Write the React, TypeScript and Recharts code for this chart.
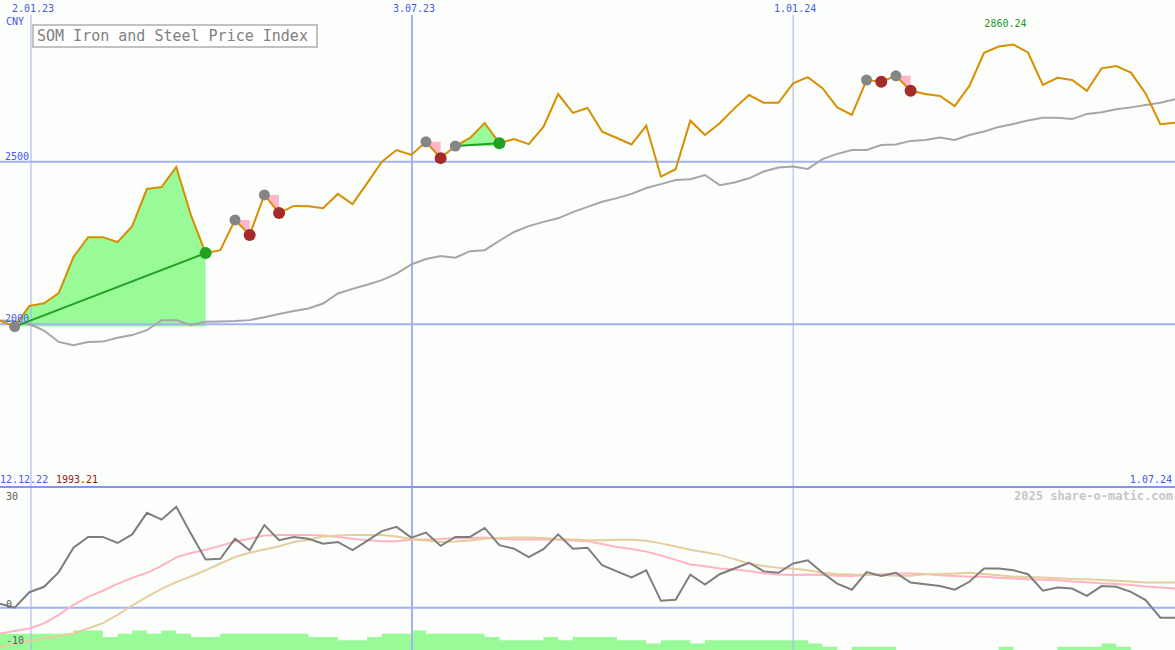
import React from "react";
import { ComposedChart, Line, Area, XAxis, YAxis, ReferenceLine, ReferenceDot } from "recharts";

const MONO = '"DejaVu Sans Mono", "Liberation Mono", monospace';
const BLUE_TEXT = "#4658ee";
const GRID = "#a3b0f2";

// weekly closes, 12.12.22 .. 1.07.24
const startLabel = "12.12.22";
const endLabel = "1.07.24";
const dateTicks = [2.11, 28.05, 54];
const dateLabels = ["2.01.23", "3.07.23", "1.01.24"];
const priceTicks = [2000, 2500];
const oscTicks = [30, 0, -10];

const price = [
  2011, 1993.21, 2057, 2065, 2096, 2207, 2268, 2268, 2253, 2302,
  2416, 2422, 2484, 2336, 2219, 2228, 2321, 2275, 2398, 2342,
  2364, 2363, 2357, 2401, 2370, 2434, 2500, 2536, 2521, 2561,
  2511, 2548, 2573, 2619, 2557, 2570, 2554, 2607, 2708, 2650,
  2665, 2592, 2573, 2553, 2611, 2454, 2477, 2626, 2582, 2618,
  2664, 2705, 2681, 2681, 2741, 2760, 2726, 2667, 2644, 2751,
  2746, 2764, 2718, 2708, 2702, 2671, 2733, 2835, 2854, 2860.24,
  2835, 2736, 2758, 2751, 2718, 2787, 2794, 2774, 2710, 2615, 2620,
];

const avg = [
  2012, 2010, 2001, 1981, 1946, 1936, 1946, 1947, 1959, 1967,
  1982, 2013, 2013, 1998, 2008, 2009, 2010, 2013, 2022, 2032,
  2041, 2049, 2064, 2095, 2109, 2122, 2136, 2156, 2184, 2201,
  2210, 2205, 2225, 2228, 2257, 2284, 2302, 2315, 2326, 2345,
  2361, 2377, 2388, 2401, 2419, 2431, 2444, 2446, 2459, 2428,
  2436, 2449, 2470, 2482, 2485, 2478, 2508, 2524, 2536, 2536,
  2551, 2553, 2564, 2567, 2574, 2567, 2582, 2593, 2607, 2616,
  2627, 2635, 2635, 2631, 2647, 2652, 2661, 2667, 2674, 2681, 2692,
];

const momentum = [
  1.1, 0, 4.3, 5.8, 9.9, 16.7, 19.7, 19.7, 18.0, 20.4,
  26.4, 24.5, 28.1, 20.6, 13.4, 13.6, 19.2, 16.0, 23.0, 18.8,
  19.7, 19.2, 17.8, 18.3, 16.0, 18.6, 21.3, 22.5, 19.5, 20.9,
  17.2, 19.7, 19.7, 22.2, 17.4, 16.4, 14.1, 16.3, 20.4, 16.4,
  16.7, 11.8, 10.1, 8.4, 10.4, 1.9, 2.2, 9.2, 6.4, 9.3,
  10.9, 12.5, 10.1, 9.7, 12.3, 13.2, 9.7, 6.7, 5.0, 9.9,
  8.8, 9.7, 7.0, 6.5, 6.0, 5.0, 7.2, 10.9, 10.9, 10.4,
  9.3, 4.7, 5.6, 5.3, 3.3, 6.0, 5.8, 4.4, 2.1, -2.8, -2.8,
];

const signal = [
  -7.2, -6.5, -5.8, -4.4, -2.0, 0.8, 3.0, 4.7, 6.6, 8.3,
  9.7, 11.6, 14.0, 15.2, 16.1, 17.2, 18.4, 19.2, 20.1, 20.2,
  20.2, 20.2, 20.1, 19.7, 19.2, 18.8, 18.5, 18.5, 18.9, 19.0,
  19.1, 19.3, 19.4, 19.5, 19.2, 19.0, 19.0, 19.0, 18.9, 18.7,
  18.5, 17.7, 16.9, 16.3, 15.6, 14.5, 13.3, 12.0, 11.5, 10.9,
  10.6, 10.2, 9.6, 9.2, 9.1, 9.2, 9.1, 8.9, 8.8, 9.1,
  9.3, 9.5, 9.5, 9.4, 9.0, 8.8, 8.6, 8.6, 8.3, 8.1,
  7.9, 7.8, 7.6, 7.3, 7.1, 6.8, 6.6, 6.3, 5.9, 5.6, 5.3,
];

const slow = [
  -10.8, -10.0, -9.3, -8.6, -7.9, -7.2, -5.8, -4.3, -2.0, 0.6,
  3.0, 5.2, 7.1, 8.7, 10.4, 12.3, 14.1, 15.3, 16.2, 17.1,
  18.3, 18.9, 19.8, 20.1, 20.2, 20.2, 20.2, 19.8, 19.1, 18.7,
  18.3, 18.4, 18.7, 19.2, 19.4, 19.5, 19.5, 19.4, 19.1, 19.0,
  18.8, 18.8, 18.9, 18.9, 18.6, 17.9, 17.0, 16.1, 15.4, 14.7,
  13.5, 12.3, 11.6, 11.1, 10.8, 10.4, 9.7, 9.4, 9.2, 9.1,
  9.1, 8.9, 8.9, 9.3, 9.4, 9.5, 9.7, 9.4, 9.0, 8.6,
  8.5, 8.4, 8.2, 8.0, 7.9, 7.7, 7.5, 7.3, 7.0, 7.0, 7.0,
];

const volume = [
  5, 5, 5, 5, 5, 6, 6, 4, 5, 6,
  5, 6, 5, 4, 4, 5, 5, 5, 5, 5,
  5, 4, 4, 3, 3, 4, 5, 5, 6, 5,
  5, 5, 5, 4, 3, 3, 3, 4, 3, 4,
  4, 4, 3, 3, 2, 3, 3, 2, 3, 3,
  3, 3, 3, 3, 3, 2, 1, 0, 1, 1,
  1, 0, 0, 0, 0, 0, 0, 0, 1, 0,
  0, 0, 1, 1, 1, 2, 1, 0, 0, 0, 0,
];

// signals: entry index -> exit index
const trades = [
  { from: 1, to: 14 },
  { from: 16, to: 17 },
  { from: 18, to: 19 },
  { from: 29, to: 30 },
  { from: 31, to: 34 },
  { from: 59, to: 60 },
  { from: 61, to: 62 },
];

const lastIndex = price.length - 1;
const isWin = (t: { from: number; to: number }) => price[t.to] > price[t.from];
const maxVal = Math.max(...price);
const maxIdx = price.indexOf(maxVal);
const minVal = Math.min(...price);

const topData = price.map((p, i) => {
  const row: Record<string, any> = { i, price: p, avg: avg[i] };
  trades.forEach((t, k) => {
    row[`band${k}`] = i >= t.from && i <= t.to ? [price[t.from], p] : null;
    row[`path${k}`] = i === t.from || i === t.to ? p : null;
  });
  row.entryDot = trades.some((t) => t.from === i) ? p : null;
  row.winDot = trades.some((t) => t.to === i && isWin(t)) ? p : null;
  row.lossDot = trades.some((t) => t.to === i && !isWin(t)) ? p : null;
  return row;
});

const bottomData = price.map((_, i) => ({
  i,
  momentum: momentum[i],
  signal: signal[i],
  slow: slow[i],
  vol: volume[i],
}));

const DateTick = (props: any) => {
  const k = dateTicks.indexOf(props.payload.value);
  return (
    <text x={props.x + 2} y={12} textAnchor="middle" fill={BLUE_TEXT} fontSize={10} fontFamily={MONO}>
      {dateLabels[k]}
    </text>
  );
};

const PriceTick = (props: any) => (
  <text x={5} y={props.y - 2} textAnchor="start" fill={BLUE_TEXT} fontSize={10} fontFamily={MONO}>
    {props.payload.value}
  </text>
);

const OscTick = (props: any) => (
  <text x={6} y={props.y} textAnchor="start" fill="#606060" fontSize={10} fontFamily={MONO}>
    {props.payload.value}
  </text>
);

const zero = { top: 0, right: 0, bottom: 0, left: 0 };

export default function App() {
  return (
    <div style={{ position: "absolute", left: 0, top: 0, width: 1175, height: 650, background: "#fbfefb", overflow: "hidden" }}>
      <div style={{ position: "absolute", left: 0, top: 0 }}>
        <ComposedChart width={1175} height={487} data={topData} margin={zero}>
          <XAxis type="number" dataKey="i" domain={[0, lastIndex]} orientation="top" height={15} ticks={dateTicks} interval={0} axisLine={false} tickLine={false} tick={DateTick} />
          <YAxis type="number" domain={[1500, 2951]} allowDataOverflow ticks={priceTicks} interval={0} width={40} mirror axisLine={false} tickLine={false} tick={PriceTick} />
          {dateTicks.map((d, k) => (
            <ReferenceLine key={`v${d}`} x={d} stroke={GRID} strokeWidth={k === 1 ? 2 : 1} />
          ))}
          {priceTicks.map((v) => (
            <ReferenceLine key={`h${v}`} y={v} stroke={GRID} strokeWidth={2} />
          ))}
          {trades.map((t, k) => (
            <Area
              key={`band${k}`}
              dataKey={`band${k}`}
              type="linear"
              stroke="none"
              fill={isWin(t) ? "#98fb98" : "#ffb6c8"}
              fillOpacity={1}
              connectNulls={false}
              isAnimationActive={false}
            />
          ))}
          <Line dataKey="avg" type="linear" stroke="#a6a6a6" strokeWidth={2} dot={false} isAnimationActive={false} />
          {trades.map((t, k) =>
            isWin(t) ? (
              <Line key={`path${k}`} dataKey={`path${k}`} type="linear" stroke="#23a023" strokeWidth={2} connectNulls dot={false} isAnimationActive={false} />
            ) : null
          )}
          <Line dataKey="entryDot" stroke="none" dot={{ r: 5.5, fill: "#858585", stroke: "none" }} isAnimationActive={false} />
          <Line dataKey="lossDot" stroke="none" dot={{ r: 6, fill: "#a52a2a", stroke: "none" }} isAnimationActive={false} />
          <Line dataKey="winDot" stroke="none" dot={{ r: 6, fill: "#22a022", stroke: "none" }} isAnimationActive={false} />
          <Line dataKey="price" type="linear" stroke="#d98e00" strokeWidth={2} dot={false} isAnimationActive={false} />
          <ReferenceDot
            x={maxIdx}
            y={maxVal}
            r={0}
            stroke="none"
            label={{ value: maxVal.toFixed(2), position: "top", offset: 18, dx: -8, fill: "#1f961f", fontSize: 10, fontFamily: MONO }}
          />
        </ComposedChart>
      </div>

      <div style={{ position: "absolute", left: 0, top: 487 }}>
        <ComposedChart width={1175} height={163} data={bottomData} margin={zero}>
          <XAxis type="number" dataKey="i" domain={[0, lastIndex]} hide />
          <YAxis type="number" domain={[-11.8, 33.6]} allowDataOverflow ticks={oscTicks} interval={0} width={40} mirror axisLine={false} tickLine={false} tick={OscTick} />
          <YAxis yAxisId="v" type="number" domain={[0, 50]} hide />
          {dateTicks.map((d, k) => (
            <ReferenceLine key={`bv${d}`} x={d} stroke={GRID} strokeWidth={k === 1 ? 2 : 1} />
          ))}
          <ReferenceLine y={0} stroke={GRID} strokeWidth={2} />
          <Area yAxisId="v" dataKey="vol" type="stepAfter" stroke="none" fill="#98fb98" fillOpacity={1} isAnimationActive={false} />
          <Line dataKey="signal" type="linear" stroke="#ffb3c3" strokeWidth={2} dot={false} isAnimationActive={false} />
          <Line dataKey="slow" type="linear" stroke="#e6cd9e" strokeWidth={2} dot={false} isAnimationActive={false} />
          <Line dataKey="momentum" type="linear" stroke="#7e7e7e" strokeWidth={2} dot={false} isAnimationActive={false} />
        </ComposedChart>
      </div>

      <div style={{ position: "absolute", left: 0, top: 486, width: 1175, height: 2, background: "#8494f0" }} />

      <svg width={1175} height={650} style={{ position: "absolute", left: 0, top: 0, pointerEvents: "none" }}>
        <text x={6} y={25} fill={BLUE_TEXT} fontSize={10} fontFamily={MONO}>CNY</text>
        <rect x={33} y={25} width={284} height={22} fill="#ffffff" stroke="#c2c2c2" strokeWidth={2} />
        <text x={37} y={41} fill="#808080" fontSize={15} fontFamily={MONO}>SOM Iron and Steel Price Index</text>
        <text x={0} y={483} fill={BLUE_TEXT} fontSize={10} fontFamily={MONO}>{startLabel}</text>
        <text x={56} y={483} fill="#a01818" fontSize={10} fontFamily={MONO}>{minVal.toFixed(2)}</text>
        <text x={1172} y={483} textAnchor="end" fill={BLUE_TEXT} fontSize={10} fontFamily={MONO}>{endLabel}</text>
        <text x={1173} y={500} textAnchor="end" fill="#c6c6c6" fontSize={12} fontWeight="bold" fontFamily={MONO}>2025 share-o-matic.com</text>
      </svg>
    </div>
  );
}
